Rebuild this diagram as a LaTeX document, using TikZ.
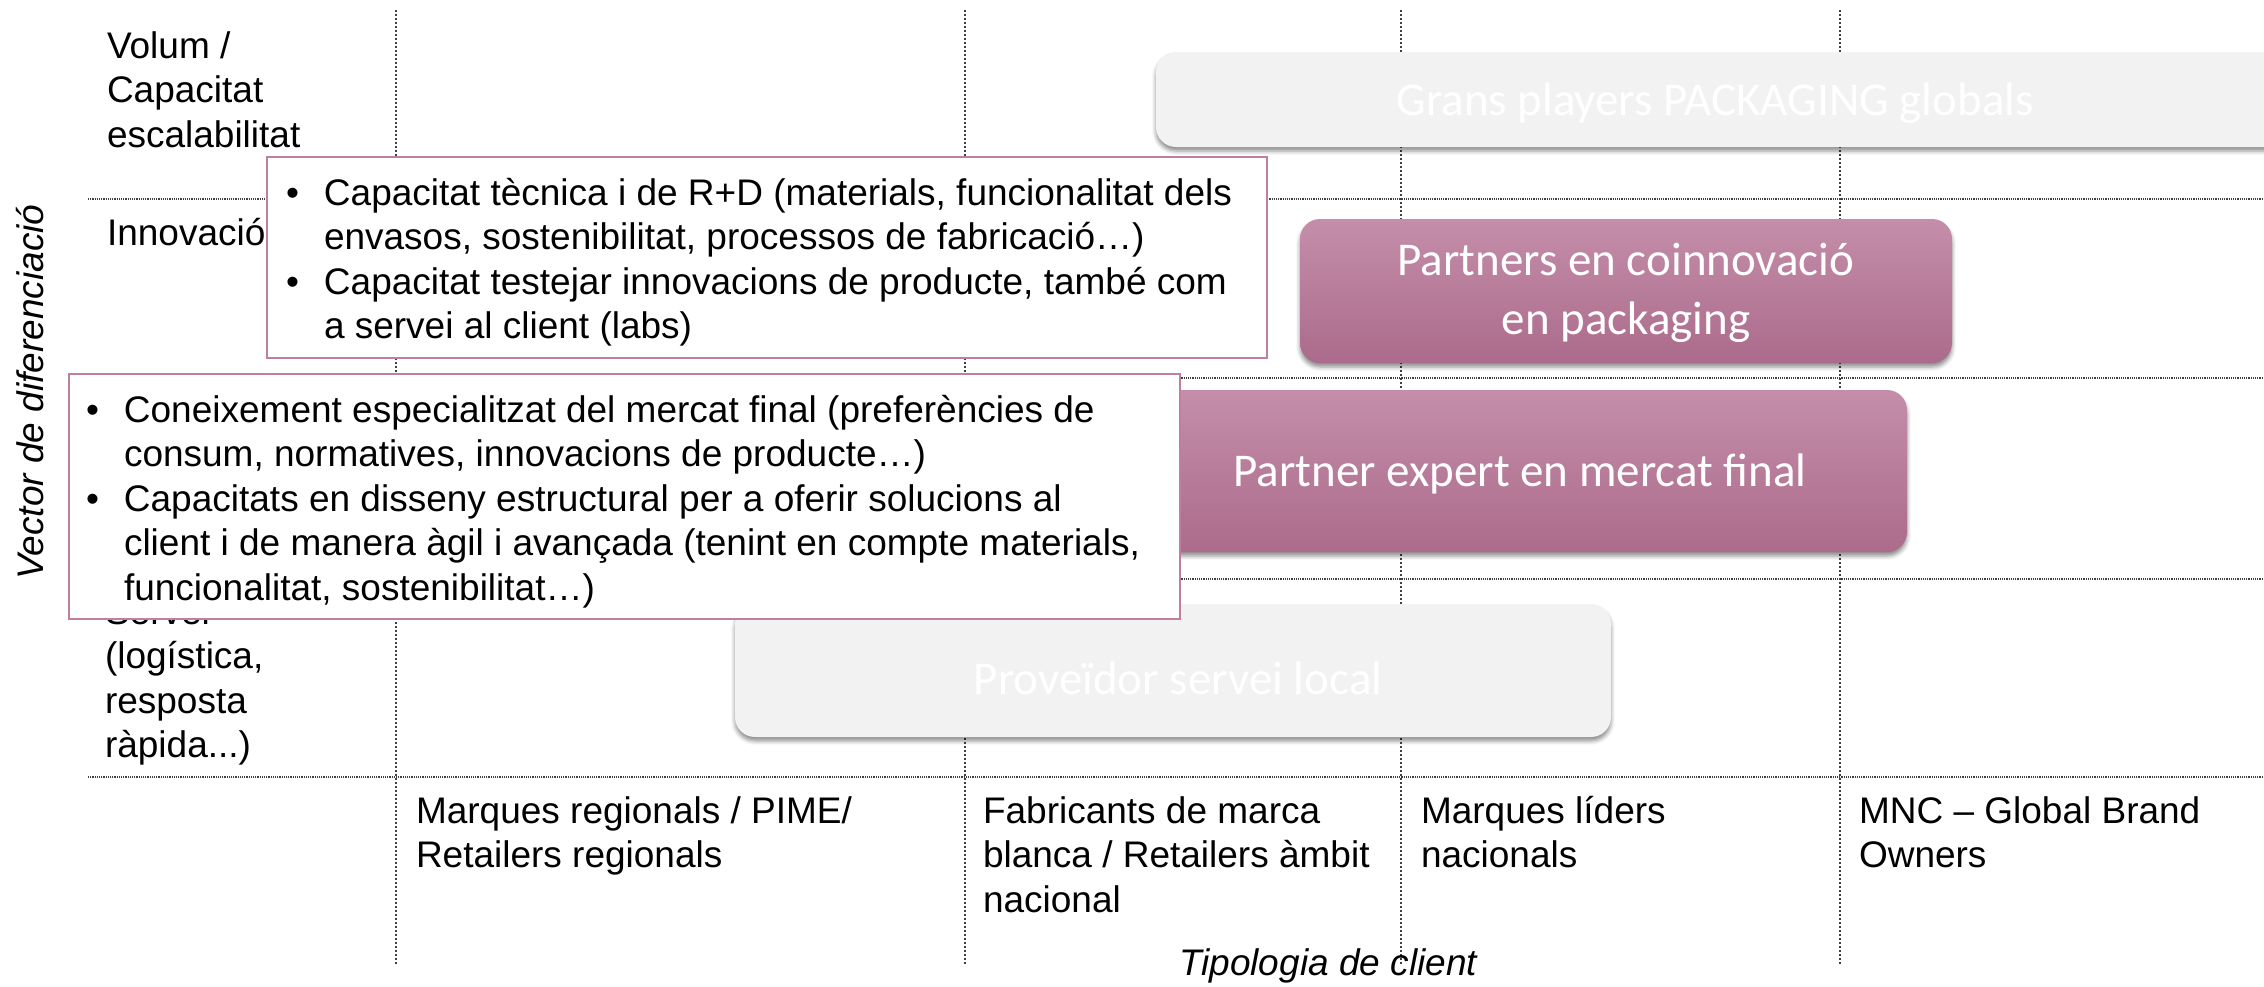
\documentclass[tikz,border=0pt]{standalone}
\usepackage{fontspec}
\setmainfont{Liberation Sans}
\newfontfamily\calfont{Carlito}
\usetikzlibrary{shadows.blur}
\definecolor{gridc}{HTML}{404040}
\definecolor{pinkT}{HTML}{C48EAA}
\definecolor{pinkB}{HTML}{AC6B8C}
\definecolor{pinkE}{HTML}{C07F9F}
\definecolor{boxgray}{HTML}{F2F2F2}
\newcommand\blt{\makebox[19pt][l]{\textbullet}}
\begin{document}
\begin{tikzpicture}[x=0.5pt,y=-0.5pt,
  txt/.style={inner sep=0pt, outer sep=0pt, font=\fontsize{18.5}{22.25}\selectfont},
  itxt/.style={txt, font=\fontsize{18.5}{22.25}\selectfont\itshape},
  hline/.style={draw=gridc, line width=0.8pt, dash pattern=on 0.6pt off 0.5pt},
  vline/.style={draw=gridc, line width=0.7pt, dash pattern=on 1pt off 1pt},
  infobox/.style={draw=pinkE, line width=1pt, fill=white, inner sep=0pt, outer sep=0pt, anchor=north west},
  shad/.style={blur shadow={shadow xshift=0pt, shadow yshift=-2pt, shadow blur radius=2pt, shadow opacity=45}},
  greybox/.style={fill=boxgray, rounded corners=10pt, inner sep=0pt, outer sep=0pt, anchor=north west, shad},
  pinkbox/.style={top color=pinkT, bottom color=pinkB, rounded corners=10pt, inner sep=0pt, outer sep=0pt, anchor=north west, shad},
  boxtxt/.style={text=white, font=\calfont\fontsize{23.5}{29.5}\selectfont, align=center, inner sep=0pt}
]
\useasboundingbox (0,0) rectangle (2264,986);
% grid
\foreach \yy in {199,378,579,777} \draw[hline] (88,\yy) -- (2264,\yy);
\foreach \xx in {396,965,1401,1840} \draw[vline] (\xx,10) -- (\xx,965);
% left labels
\node[txt, anchor=base west] (lvol) at (107,58) {\begin{tabular}[t]{@{}l@{}}Volum /\\Capacitat\\escalabilitat\end{tabular}};
\node[txt, anchor=base west] (linn) at (107,245) {Innovació};
\node[txt, anchor=base west] (lser) at (105,624) {\begin{tabular}[t]{@{}l@{}}Servei\\(logística,\\resposta\\ràpida...)\end{tabular}};
% rounded boxes
\node[greybox, minimum width=572pt, minimum height=47.5pt] (grans) at (1156,52) {};
\node[boxtxt] (granst) at (1715,103) {Grans players PACKAGING globals};
\node[pinkbox, minimum width=326pt, minimum height=72pt] (coinn) at (1300,219) {};
\node[boxtxt] (coinnt) at (1626,293) {Partners en coinnovació\\en packaging};
\node[pinkbox, minimum width=387pt, minimum height=81pt] (expert) at (1133,390) {};
\node[boxtxt] (expertt) at (1520,474) {Partner expert en mercat final};
\node[greybox, minimum width=438pt, minimum height=66.5pt] (prov) at (735,604) {};
\node[boxtxt] (provt) at (1178,678) {Proveïdor servei local};
% info boxes
\node[infobox, minimum width=500pt, minimum height=100.5pt] (b1) at (267,157) {};
\node[txt, anchor=base west] (b1t) at (286,205) {\begin{tabular}[t]{@{}l@{}l@{}}
\blt & Capacitat tècnica i de R+D (materials, funcionalitat dels\\
 & envasos, sostenibilitat, processos de fabricació…)\\
\blt & Capacitat testejar innovacions de producte, també com\\
 & a servei al client (labs)\end{tabular}};
\node[infobox, minimum width=555.5pt, minimum height=122.5pt] (b2) at (69,374) {};
\node[txt, anchor=base west] (b2t) at (86,422) {\begin{tabular}[t]{@{}l@{}l@{}}
\blt & Coneixement especialitzat del mercat final (preferències de\\
 & consum, normatives, innovacions de producte…)\\
\blt & Capacitats en disseny estructural per a oferir solucions al\\
 & client i de manera àgil i avançada (tenint en compte materials,\\
 & funcionalitat, sostenibilitat…)\end{tabular}};
% bottom labels
\node[txt, anchor=base west] (c1) at (416,823) {\begin{tabular}[t]{@{}l@{}}Marques regionals / PIME/\\Retailers regionals\end{tabular}};
\node[txt, anchor=base west] (c2) at (983,823) {\begin{tabular}[t]{@{}l@{}}Fabricants de marca\\blanca / Retailers àmbit\\nacional\end{tabular}};
\node[txt, anchor=base west] (c3) at (1421,823) {\begin{tabular}[t]{@{}l@{}}Marques líders\\nacionals\end{tabular}};
\node[txt, anchor=base west] (c4) at (1859,823) {\begin{tabular}[t]{@{}l@{}}MNC – Global Brand\\Owners\end{tabular}};
% axis titles
\node[itxt, anchor=base] (xlab) at (1328,975) {Tipologia de client};
\node[itxt, anchor=base, rotate=90] (ylab) at (43,392) {Vector de diferenciació};
\end{tikzpicture}
\end{document}
